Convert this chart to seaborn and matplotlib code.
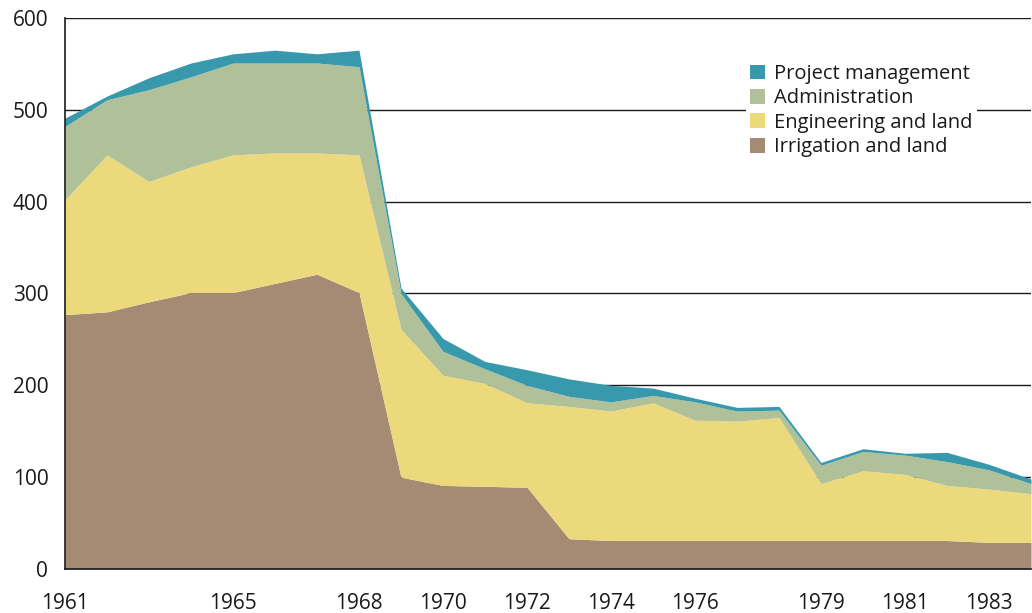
import numpy as np
import pandas as pd
import matplotlib
matplotlib.use("Agg")
import matplotlib.pyplot as plt
import seaborn as sns
from matplotlib.patches import Patch

years = list(range(1961, 1985))
irrigation = [277, 280, 291, 301, 301, 311, 321, 301, 100, 91, 90, 89,
              33, 31, 31, 31, 31, 31, 31, 31, 31, 31, 29, 29]
engineering = [125, 171, 131, 137, 150, 142, 132, 150, 161, 120, 112, 92,
               144, 141, 150, 131, 130, 134, 62, 76, 72, 60, 58, 53]
administration = [80, 60, 100, 98, 100, 98, 98, 96, 39, 26, 16, 19,
                  11, 10, 8, 20, 11, 8, 20, 21, 21, 26, 21, 11]
project_mgmt = [9, 4, 13, 15, 10, 14, 10, 18, 6, 14, 8, 17,
                19, 18, 8, 4, 4, 4, 3, 3, 2, 10, 6, 5]

series_names = ["Irrigation and land", "Engineering and land",
                "Administration", "Project management"]
colors = ["#A58B73", "#ECD97C", "#B0C098", "#3899AD"]
labelled_years = [1961, 1965, 1968, 1970, 1972, 1974, 1976, 1979, 1981, 1983]
y_ticks = [0, 100, 200, 300, 400, 500, 600]

df = pd.DataFrame({"year": years, series_names[0]: irrigation,
                   series_names[1]: engineering, series_names[2]: administration,
                   series_names[3]: project_mgmt})

sns.set_style("white")
plt.rcParams["font.family"] = ["Open Sans", "DejaVu Sans"]

fig = plt.figure(figsize=(10.32, 6.13), dpi=100)
W, H = 1032, 613
x0, x1, y0, y1 = 65, 1031, 569, 18
ax = fig.add_axes([x0 / W, 1 - y0 / H, (x1 - x0) / W, (y0 - y1) / H])

for v in y_ticks[1:]:
    ax.axhline(v, color="#1a1a1a", lw=1.0, zorder=0)

ax.stackplot(df["year"], [df[n] for n in series_names], colors=colors,
             linewidth=0, zorder=2)

ax.set_xlim(1961, 1984)
ax.set_ylim(0, 600)
ax.set_yticks(y_ticks)
ax.set_yticklabels([str(v) for v in y_ticks])
ax.set_xticks(years)
ax.set_xticklabels([str(y) if y in labelled_years else "" for y in years])
ax.tick_params(axis="both", direction="out", length=6, width=1.0,
               color="#1a1a1a", labelsize=15, labelcolor="#1a1a1a")
ax.tick_params(axis="x", pad=11)
ax.tick_params(axis="y", pad=6)
for lab in ax.get_xticklabels() + ax.get_yticklabels():
    lab.set_fontweight("medium")

sns.despine(ax=ax, top=True, right=True)
for s in ["left", "bottom"]:
    ax.spines[s].set_color("#1a1a1a")
    ax.spines[s].set_linewidth(1.2)
    ax.spines[s].set_zorder(3)

handles = [Patch(facecolor=c, edgecolor="none") for c in colors[::-1]]
leg = fig.legend(handles, series_names[::-1], loc="upper left",
                 bbox_to_anchor=(746 / W, 1 - 60 / H), frameon=True,
                 prop={"size": 14.5, "weight": "medium"},
                 handlelength=0.75, handleheight=0.75,
                 handletextpad=0.45, labelspacing=0.22, borderpad=0.2,
                 borderaxespad=0)
leg.get_frame().set_facecolor("white")
leg.get_frame().set_edgecolor("none")
leg.get_frame().set_alpha(1)
for t in leg.get_texts():
    t.set_color("#1a1a1a")

fig.savefig("out.png", dpi=100)
